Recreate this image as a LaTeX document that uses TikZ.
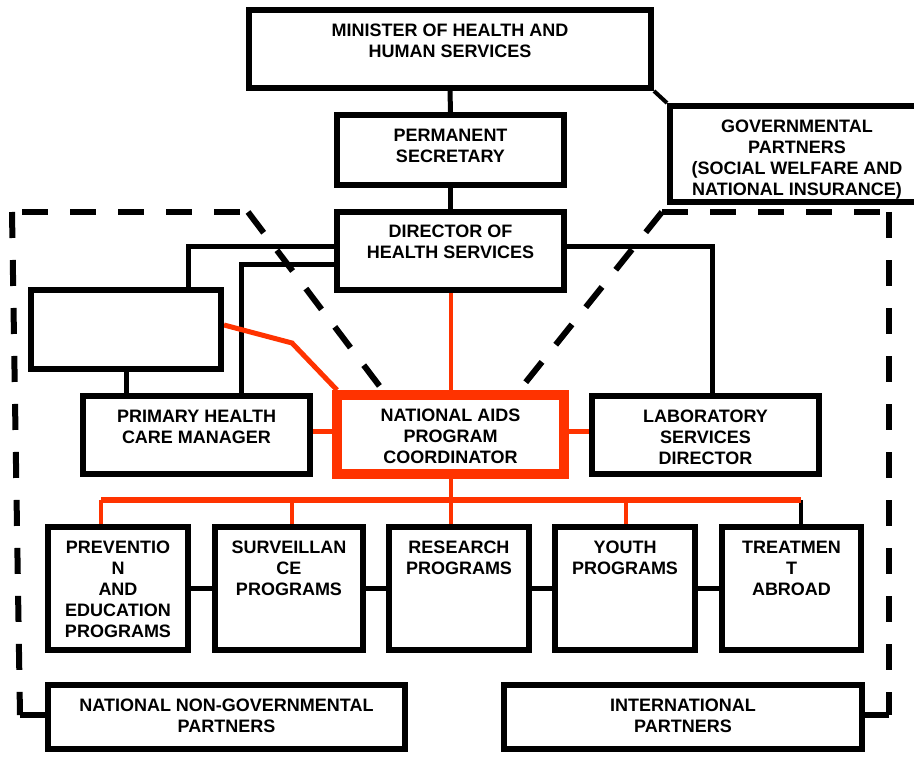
\documentclass[tikz,border=0pt]{standalone}
\usepackage{fontspec}
\setmainfont{Liberation Sans}
\usetikzlibrary{backgrounds}
\definecolor{aidsred}{RGB}{255,51,0}

\begin{document}
\begin{tikzpicture}[x=1pt, y=-1pt,
    box/.style={draw, line width=6pt, fill=white, rectangle, inner sep=0pt},
    redbox/.style={draw=aidsred, line width=10pt, fill=white, rectangle, inner sep=0pt},
    lbl/.style={anchor=north, inner sep=0pt, align=center, font=\fontsize{18}{21}\selectfont\bfseries},
    conn/.style={line width=5pt},
    redconn/.style={draw=aidsred, line width=4pt},
    dashconn/.style={line width=6pt, dash pattern=on 26pt off 22pt}]
    \useasboundingbox (0,0) rectangle (914,757);

    % 上层
    \node[box, minimum width=402pt, minimum height=78pt] (minister) at (450,49) {};
    \node[box, minimum width=227pt, minimum height=70pt] (secretary) at (450.5,150) {};
    \node[box, minimum width=254pt, minimum height=96pt] (govt) at (797,154) {};
    \node[box, minimum width=227pt, minimum height=78pt] (director) at (450.5,251) {};

    % 中层
    \node[box, minimum width=190pt, minimum height=79pt] (blank) at (126,329.5) {};
    \node[box, minimum width=227pt, minimum height=78pt] (phc) at (196.5,435) {};
    \node[redbox, minimum width=227pt, minimum height=79pt] (napc) at (450.5,434.5) {};
    \node[box, minimum width=227pt, minimum height=78pt] (lab) at (705.5,435) {};

    % 项目
    \node[box, minimum width=140pt, minimum height=123pt] (prevention) at (118,588.5) {};
    \node[box, minimum width=148pt, minimum height=123pt] (surveillance) at (289,588.5) {};
    \node[box, minimum width=140pt, minimum height=123pt] (research) at (459,588.5) {};
    \node[box, minimum width=140pt, minimum height=123pt] (youth) at (625,588.5) {};
    \node[box, minimum width=139pt, minimum height=123pt] (treatment) at (791.5,588.5) {};

    % 伙伴
    \node[box, minimum width=357pt, minimum height=64pt] (ngo) at (226.5,717) {};
    \node[box, minimum width=358pt, minimum height=64pt] (intl) at (683,717) {};

    % 文字
    \node[lbl] (ministerT) at ([yshift=-16.5pt]minister.north) {MINISTER OF HEALTH AND\\HUMAN SERVICES};
    \node[lbl] (secretaryT) at ([yshift=-16.5pt]secretary.north) {PERMANENT\\SECRETARY};
    \node[lbl] (govtT) at ([yshift=-16.5pt]govt.north) {GOVERNMENTAL\\PARTNERS\\(SOCIAL WELFARE AND\\NATIONAL INSURANCE)};
    \node[lbl] (directorT) at ([yshift=-16pt]director.north) {DIRECTOR OF\\HEALTH SERVICES};
    \node[lbl] (phcT) at ([yshift=-16.5pt]phc.north) {PRIMARY HEALTH\\CARE MANAGER};
    \node[lbl] (napcT) at ([yshift=-19pt]napc.north) {NATIONAL AIDS\\PROGRAM\\COORDINATOR};
    \node[lbl] (labT) at ([yshift=-16.5pt]lab.north) {LABORATORY\\SERVICES\\DIRECTOR};
    \node[lbl] (preventionT) at ([yshift=-16.5pt]prevention.north) {PREVENTIO\\N\\AND\\EDUCATION\\PROGRAMS};
    \node[lbl] (surveillanceT) at ([yshift=-16.5pt]surveillance.north) {SURVEILLAN\\CE\\PROGRAMS};
    \node[lbl] (researchT) at ([yshift=-16.5pt]research.north) {RESEARCH\\PROGRAMS};
    \node[lbl] (youthT) at ([yshift=-16.5pt]youth.north) {YOUTH\\PROGRAMS};
    \node[lbl] (treatmentT) at ([yshift=-16.5pt]treatment.north) {TREATMEN\\T\\ABROAD};
    \node[lbl] (ngoT) at ([yshift=-16.5pt]ngo.north) {NATIONAL NON-GOVERNMENTAL\\PARTNERS};
    \node[lbl] (intlT) at ([yshift=-16.5pt]intl.north) {INTERNATIONAL\\PARTNERS};

    \coordinate (busL) at (101,500);
    \coordinate (busR) at (801,500);
    \coordinate (d2) at (292,500);
    \coordinate (d4) at (626,500);
    \coordinate (bend) at (292,343);

    % 虚线范围的角
    \coordinate (lt) at (12,212);
    \coordinate (lb) at (20,715);
    \coordinate (rt) at (889,212);
    \coordinate (rb) at (889,715);
    \coordinate (lkink) at (248,212);
    \coordinate (rkink) at (662,212);

    \begin{scope}[on background layer]
    % 黑色连线
    \draw[conn] (minister.south) -- (secretary.north);
    \draw[conn] (secretary.south) -- (director.north);
    \draw[conn, line width=4pt] (minister.south east) -- (govt.north west);
    \draw[conn] (director.west |- 0,247) -| ([xshift=62pt]blank.north);
    \draw[conn] (director.west |- 0,264) -| ([xshift=44.5pt]phc.north);
    \draw[conn] (director.east |- 0,247) -| ([xshift=6.5pt]lab.north);
    \draw[conn] (blank.south) -- (blank.south |- phc.north);
    \draw[conn] (prevention.east) -- (surveillance.west);
    \draw[conn] (surveillance.east) -- (research.west);
    \draw[conn] (research.east) -- (youth.west);
    \draw[conn] (youth.east) -- (treatment.west);
    \draw[conn, line width=4pt] (busR) -- (busR |- treatment.north);

    % 红色连线
    \draw[redconn] (director.south) -- (napc.north);
    \draw[redconn, line width=5pt] (blank.east |- 0,325) -- (bend) -- ([xshift=5pt]napc.north west);
    \draw[redconn, line width=5pt] (phc.east |- 0,431) -- (napc.west |- 0,431);
    \draw[redconn, line width=5pt] (napc.east |- 0,431) -- (lab.west |- 0,431);
    \draw[redconn] (napc.south) -- (napc.south |- research.north);
    \draw[redconn, line width=6pt] (busL) -- (busR);
    \draw[redconn] (busL) -- (busL |- prevention.north);
    \draw[redconn] (d2) -- (d2 |- surveillance.north);
    \draw[redconn] (d4) -- (d4 |- youth.north);

    % 虚线范围
    \draw[dashconn] ([xshift=10pt]lt) -- (lkink);
    \draw[dashconn] (lkink) -- ([xshift=-68pt]napc.north);
    \draw[dashconn] (lt) -- (lb);
    \draw[conn, line width=6pt] (lb) -- (ngo.west |- lb);
    \draw[dashconn] (rkink) -- (rt);
    \draw[dashconn] (rkink) -- ([xshift=69pt]napc.north);
    \draw[dashconn] (rt) -- (rb);
    \draw[conn, line width=6pt] (rb) -- (intl.east |- rb);
    \end{scope}
\end{tikzpicture}
\end{document}
